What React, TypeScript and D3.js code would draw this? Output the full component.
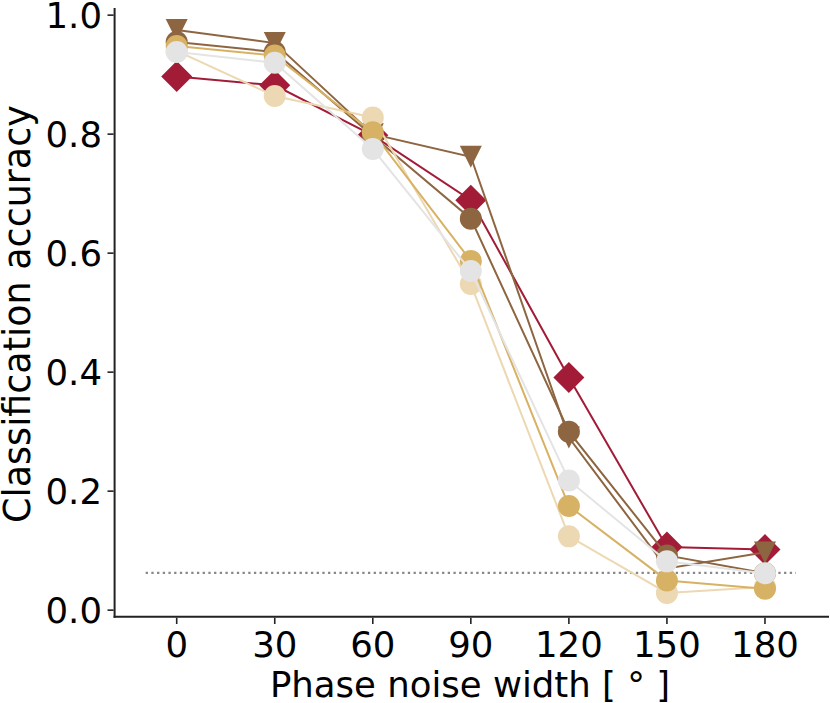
import { useEffect, useRef } from "react";
import * as d3 from "d3";

// phase noise widths (degrees)
const noiseWidths = [0, 30, 60, 90, 120, 150, 180];
const yTicks = [0.0, 0.2, 0.4, 0.6, 0.8, 1.0];

// classification accuracy per model
const accDiamond = [0.897, 0.882, 0.798, 0.689, 0.391, 0.106, 0.102];
const accTriangle = [0.975, 0.953, 0.8, 0.762, 0.29, 0.07, 0.097];
const accBrown = [0.955, 0.938, 0.797, 0.658, 0.3, 0.092, 0.062];
const accBeige = [0.94, 0.864, 0.828, 0.548, 0.124, 0.029, 0.039];
const accGold = [0.948, 0.932, 0.803, 0.587, 0.175, 0.05, 0.036];
const accGrey = [0.938, 0.92, 0.775, 0.57, 0.218, 0.082, 0.062];
const chanceLevel = 0.0625;

const series = [
  { values: accDiamond, color: "#a21c38", marker: "diamond" },
  { values: accTriangle, color: "#8d6540", marker: "triangle" },
  { values: accBrown, color: "#8d6540", marker: "circle" },
  { values: accBeige, color: "#ecd8b2", marker: "circle" },
  { values: accGold, color: "#d8b264", marker: "circle" },
  { values: accGrey, color: "#e4e4e4", marker: "circle" },
];

const App = () => {
  const ref = useRef(null);

  useEffect(() => {
    const svg = d3.select(ref.current).attr("width", 830).attr("height", 703);
    svg.selectAll("*").remove();

    const font = "DejaVu Sans, sans-serif";
    const x = d3.scaleLinear().domain([-19, 199.5]).range([114.6, 828.7]);
    const y = d3.scaleLinear().domain([-0.011, 1.012]).range([616.7, 8]);

    // chance level
    svg
      .append("line")
      .attr("x1", x(-9.5))
      .attr("x2", x(189.5))
      .attr("y1", y(chanceLevel))
      .attr("y2", y(chanceLevel))
      .attr("stroke", "#888888")
      .attr("stroke-width", 2.2)
      .attr("stroke-dasharray", "2.3,3.4");

    const line = d3
      .line<number>()
      .x((_, i) => x(noiseWidths[i]))
      .y((d) => y(d));

    series.forEach((s) => {
      const g = svg.append("g");
      g.append("path")
        .attr("d", line(s.values))
        .attr("fill", "none")
        .attr("stroke", s.color)
        .attr("stroke-width", 2);

      s.values.forEach((v, i) => {
        const cx = x(noiseWidths[i]);
        const cy = y(v);
        if (s.marker === "circle") {
          g.append("circle")
            .attr("cx", cx)
            .attr("cy", cy)
            .attr("r", 11)
            .attr("fill", s.color);
        } else if (s.marker === "diamond") {
          const r = 15.5;
          g.append("path")
            .attr("d", `M${cx},${cy - r}L${cx + r},${cy}L${cx},${cy + r}L${cx - r},${cy}Z`)
            .attr("fill", s.color);
        } else {
          const r = 11;
          g.append("path")
            .attr("d", `M${cx - r},${cy - r}L${cx + r},${cy - r}L${cx},${cy + r}Z`)
            .attr("fill", s.color);
        }
      });
    });

    // spines
    svg
      .append("line")
      .attr("x1", 114.6)
      .attr("x2", 114.6)
      .attr("y1", 8)
      .attr("y2", 617.7)
      .attr("stroke", "#222")
      .attr("stroke-width", 2);
    svg
      .append("line")
      .attr("x1", 113.6)
      .attr("x2", 829)
      .attr("y1", 616.7)
      .attr("y2", 616.7)
      .attr("stroke", "#222")
      .attr("stroke-width", 2);

    // x ticks
    noiseWidths.forEach((t) => {
      svg
        .append("line")
        .attr("x1", x(t))
        .attr("x2", x(t))
        .attr("y1", 617.7)
        .attr("y2", 624)
        .attr("stroke", "#222")
        .attr("stroke-width", 1.6);
      svg
        .append("text")
        .attr("x", x(t))
        .attr("y", 657)
        .attr("text-anchor", "middle")
        .style("font-family", font)
        .style("font-size", "35.5px")
        .text(t);
    });

    // y ticks
    yTicks.forEach((t) => {
      svg
        .append("line")
        .attr("x1", 107.5)
        .attr("x2", 113.6)
        .attr("y1", y(t))
        .attr("y2", y(t))
        .attr("stroke", "#222")
        .attr("stroke-width", 1.6);
      svg
        .append("text")
        .attr("x", 102)
        .attr("y", y(t) + 12.9)
        .attr("text-anchor", "end")
        .style("font-family", font)
        .style("font-size", "35.5px")
        .text(t.toFixed(1));
    });

    svg
      .append("text")
      .attr("x", 470)
      .attr("y", 697)
      .attr("text-anchor", "middle")
      .style("font-family", font)
      .style("font-size", "35.5px")
      .text("Phase noise width [ ° ]");

    svg
      .append("text")
      .attr("transform", "translate(30, 314) rotate(-90)")
      .attr("text-anchor", "middle")
      .style("font-family", font)
      .style("font-size", "36.5px")
      .text("Classification accuracy");
  }, []);

  return (
    <div className="accuracyGraph">
      <svg ref={ref} style={{ position: "absolute", left: 0, top: 0 }}></svg>
    </div>
  );
};

export default App;
